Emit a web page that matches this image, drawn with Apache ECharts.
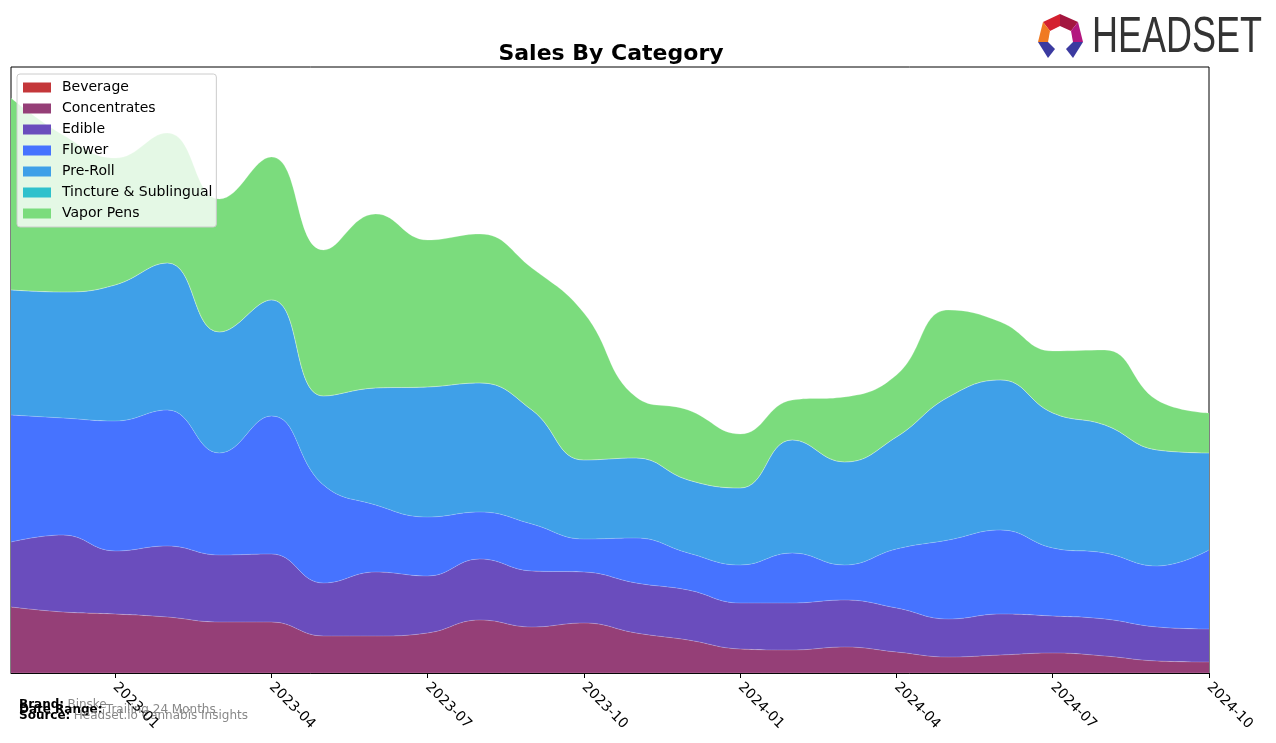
<!DOCTYPE html>
<html>
<head>
<meta charset="utf-8">
<title>Sales By Category</title>
<script src="https://cdn.jsdelivr.net/npm/echarts@6/dist/echarts.min.js"></script>
<style>
  html, body { width: 100%; height: 100%; margin: 0; padding: 0; background: #fff; }
  #main { width: 1276px; height: 743px; }
</style>
</head>
<body>
<div id="main"></div>
<script>
// months shown on the x axis
var months = ['2022-11','2022-12','2023-01','2023-02','2023-03','2023-04','2023-05','2023-06',
  '2023-07','2023-08','2023-09','2023-10','2023-11','2023-12','2024-01','2024-02',
  '2024-03','2024-04','2024-05','2024-06','2024-07','2024-08','2024-09','2024-10'];
var tickMonths = ['2023-01','2023-04','2023-07','2023-10','2024-01','2024-04','2024-07','2024-10'];

// sales per category (relative units)
var beverage     = [0,0,0,0,0,0,0,0,0,0,0,0,0,0,0,0,0,0,0,0,0,0,0,0];
var concentrates = [66,61,59,56,51,51,37,37,40,53,46,50,40,33,24,23,26,21,16,18,20,17,12,11];
var edible       = [65,77,63,71,67,68,53,64,57,61,56,51,50,50,46,47,47,44,38,41,37,37,34,33];
var flower       = [127,117,130,136,102,138,98,67,59,47,47,33,45,37,38,50,35,59,79,84,68,66,61,79];
var preRoll      = [125,126,136,147,121,116,89,117,130,129,114,79,80,73,77,113,103,112,143,150,135,128,116,97];
var tincture     = [0,0,0,0,0,0,0,0,0,0,0,0,0,0,0,0,0,0,0,0,0,0,0,0];
var vaporPens    = [192,157,127,130,133,143,146,174,147,149,142,147,61,70,54,40,65,62,87,58,62,75,50,40];

var names  = ['Beverage','Concentrates','Edible','Flower','Pre-Roll','Tincture & Sublingual','Vapor Pens'];
var colors = ['#c4373a','#953f77','#6a4dbd','#4673ff','#3fa0e8','#2fc1cc','#7bdc7d'];
var values = [beverage, concentrates, edible, flower, preRoll, tincture, vaporPens];

var myChart = echarts.init(document.getElementById('main'));
var font = 'DejaVu Sans';

var series = names.map(function (n, i) {
    return {
        name: n,
        type: 'line',
        stack: 'total',
        smooth: 0.45,
        symbol: 'none',
        lineStyle: { width: 0.6, color: 'rgba(255,255,255,0.35)' },
        itemStyle: { color: colors[i] },
        areaStyle: { color: colors[i], opacity: 1 },
        emphasis: { disabled: true },
        data: values[i]
    };
});

function isTick(idx, val) {
    return tickMonths.indexOf(val) >= 0;
}

var footRich = {
    b: { fontWeight: 'bold', fontSize: 12, fontFamily: font, fill: '#000' },
    g: { fontSize: 12, fontFamily: font, fill: '#888' }
};

myChart.setOption({
    animation: false,
    textStyle: { fontFamily: font },
    title: {
        text: 'Sales By Category',
        left: 606, top: 38, textAlign: 'center',
        textStyle: { fontFamily: font, fontSize: 22, fontWeight: 'bold', color: '#000' }
    },
    grid: {
        left: 11, right: 67, top: 67, bottom: 70,
        show: true, borderColor: '#000', borderWidth: 1, backgroundColor: 'transparent'
    },
    legend: {
        orient: 'vertical',
        left: 17, top: 74,
        padding: [6, 4, 6, 6],
        itemWidth: 28, itemHeight: 10, itemGap: 6,
        icon: 'rect',
        backgroundColor: 'rgba(255,255,255,0.8)',
        borderColor: '#cccccc', borderWidth: 1, borderRadius: 3,
        textStyle: { fontFamily: font, fontSize: 14, color: '#000', lineHeight: 15, padding: [0, 0, 0, 6] },
        data: names
    },
    xAxis: {
        type: 'category',
        boundaryGap: false,
        data: months,
        axisLine: { lineStyle: { color: '#000', width: 1 } },
        axisTick: { interval: isTick, length: 5, lineStyle: { color: '#000' } },
        axisLabel: {
            interval: isTick, rotate: -45, margin: 12,
            fontFamily: font, fontSize: 14, color: '#000'
        },
        splitLine: { show: false }
    },
    yAxis: {
        type: 'value', min: 0, max: 606, show: false,
        splitLine: { show: false }
    },
    series: series,
    graphic: [
        // footer
        { type: 'text', left: 19, top: 699, style: { text: '{b|Brand:} {g|Binske}', rich: footRich } },
        { type: 'text', left: 19, top: 704, style: { text: '{b|Date Range:} {g|Trailing 24 Months}', rich: footRich } },
        { type: 'text', left: 19, top: 710, style: { text: '{b|Source:} {g|Headset.io Cannabis Insights}', rich: footRich } },
        // logo
        { type: 'polygon', shape: { points: [[1043,22],[1060,14],[1060,26],[1050,31]] }, style: { fill: '#d4202f' } },
        { type: 'polygon', shape: { points: [[1060,14],[1078,22],[1071,31],[1060,26]] }, style: { fill: '#a3163f' } },
        { type: 'polygon', shape: { points: [[1043,22],[1050,31],[1048,42],[1038,42]] }, style: { fill: '#f07a22' } },
        { type: 'polygon', shape: { points: [[1078,22],[1083,42],[1073,42],[1071,31]] }, style: { fill: '#b3177f' } },
        { type: 'polygon', shape: { points: [[1038,42],[1048,42],[1055,49],[1048,58]] }, style: { fill: '#3b3aa0' } },
        { type: 'polygon', shape: { points: [[1083,42],[1073,42],[1066,49],[1073,58]] }, style: { fill: '#3b3aa0' } },
        { type: 'text', x: 1092, y: 13, scaleX: 0.72, style: { x: 0, y: 0, text: 'HEADSET', fontFamily: 'Liberation Sans', fontSize: 50, fill: '#333333' } }
    ]
});

window.addEventListener('resize', function () {
    myChart.resize();
});
</script>
</body>
</html>
